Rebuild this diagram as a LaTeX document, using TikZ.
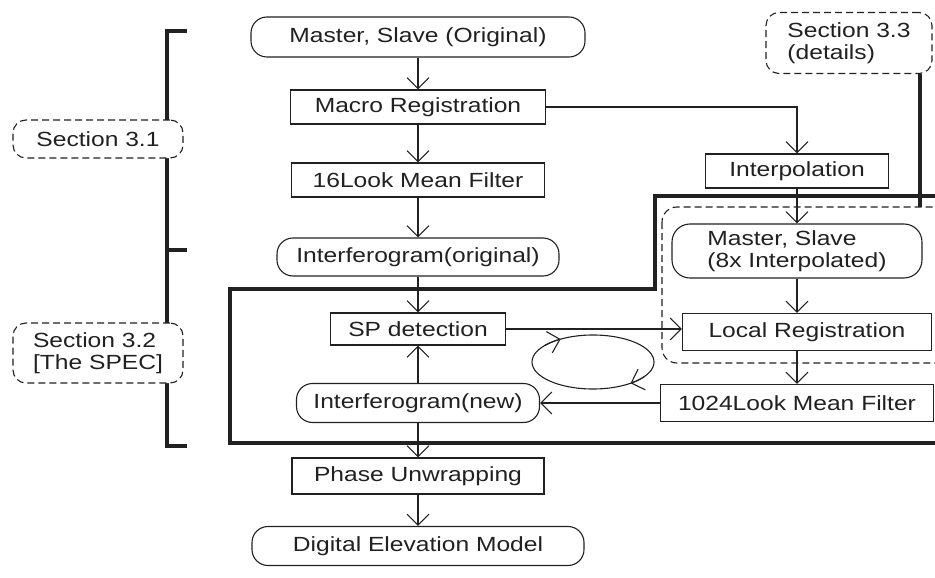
\documentclass[tikz,border=0pt]{standalone}
\usepackage{fontspec}
\setmainfont{Liberation Sans}[FakeStretch=1.2]
\usetikzlibrary{arrows.meta}
\definecolor{ink}{gray}{0.13}
\begin{document}
\begin{tikzpicture}[x=1pt,y=-1pt,
  box/.style={draw=ink, line width=1.1pt, inner sep=0pt, fill=white, text=ink,
    font=\fontsize{20.5}{21.5}\selectfont},
  rbox/.style={box, rounded corners=16pt},
  dbox/.style={box, dash pattern=on 7pt off 4pt, rounded corners=13pt, align=left},
  arr/.style={draw=ink, line width=1.1pt, -{Straight Barb[length=11pt, width=22pt, line width=1.1pt]}},
  frame/.style={draw=ink, line width=3.5pt, line join=miter},
]
\path[use as bounding box] (0,0) rectangle (935,578);
\clip (0,0) rectangle (935,578);

% left bracket
\draw[ink, line width=4pt] (187,31) -- (167,31) -- (167,446) -- (187,446);
\draw[ink, line width=4pt] (167,250) -- (187,250);

% thick frame
\draw[frame] (945,196) -- (655,196) -- (655,289) -- (230,289) -- (230,443) -- (945,443);
\coordinate (t1) at (920,74);
\coordinate (t2) at (920,207);
\draw[frame] (t1) -- (t2);

% dashed region
\draw[ink, line width=1.1pt, dash pattern=on 7pt off 4pt, rounded corners=15pt] (662,207) rectangle (950,363);

% section labels
\node[dbox, minimum width=170pt, minimum height=38pt] (sec31) at (98,139) {Section 3.1};
\node[dbox, minimum width=170pt, minimum height=60pt] (sec32) at (98,353) {Section 3.2\\\relax[The SPEC]};
\node[dbox, minimum width=166pt, minimum height=61pt] (sec33) at (849,43) {Section 3.3\\(details)};

% main column
\node[rbox, minimum width=334pt, minimum height=40pt] (orig) at (418,37) {Master, Slave (Original)};
\node[box, minimum width=255pt, minimum height=34pt] (macro) at (418,107) {Macro Registration};
\node[box, minimum width=253pt, minimum height=34pt] (f16) at (418,180) {16Look Mean Filter};
\node[rbox, minimum width=282pt, minimum height=38pt] (iorig) at (418,257) {Interferogram(original)};
\node[box, minimum width=175pt, minimum height=32pt] (sp) at (418,329) {SP detection};
\node[rbox, minimum width=243pt, minimum height=39pt] (inew) at (418,403) {Interferogram(new)};
\node[box, minimum width=252pt, minimum height=36pt] (phase) at (418,476) {Phase Unwrapping};
\node[rbox, minimum width=332pt, minimum height=39pt] (dem) at (418,546) {Digital Elevation Model};

% right column
\node[box, minimum width=183pt, minimum height=34pt] (interp) at (797,171) {Interpolation};
\node[rbox, rounded corners=18pt, minimum width=250pt, minimum height=54pt, align=left] (ms8) at (797,251) {Master, Slave\\(8x Interpolated)};
\node[box, minimum width=249pt, minimum height=37pt] (lreg) at (807,332) {Local Registration};
\node[box, minimum width=273pt, minimum height=37pt] (f1024) at (797,403) {1024Look Mean Filter};

% connectors
\draw[arr] (orig) -- (macro);
\draw[arr] (macro) -- (f16);
\draw[arr] (f16) -- (iorig);
\draw[arr] (iorig) -- (sp);
\draw[arr] (inew) -- (sp);
\draw[arr] (inew) -- (phase);
\draw[arr] (phase) -- (dem);
\draw[arr] (macro.east) -| (interp.north);
\draw[arr] (interp) -- (ms8);
\draw[arr] (ms8.south) -- (ms8.south |- lreg.north);
\draw[arr] (ms8.south |- lreg.south) -- (ms8.south |- f1024.north);
\draw[arr] (sp.east) -- (sp.east -| lreg.west);
\draw[arr] (f1024.west) -- (inew.east);

% loop
\begin{scope}[shift={(593,362)}, x=1pt, y=1pt]
  \draw[ink, line width=1.1pt] (0,0) ellipse [x radius=61, y radius=27];
  \draw[arr] (142:61 and 27) arc[start angle=142, end angle=122, x radius=61, y radius=27];
  \draw[arr] (-32:61 and 27) arc[start angle=-32, end angle=-52, x radius=61, y radius=27];
\end{scope}
\end{tikzpicture}
\end{document}
